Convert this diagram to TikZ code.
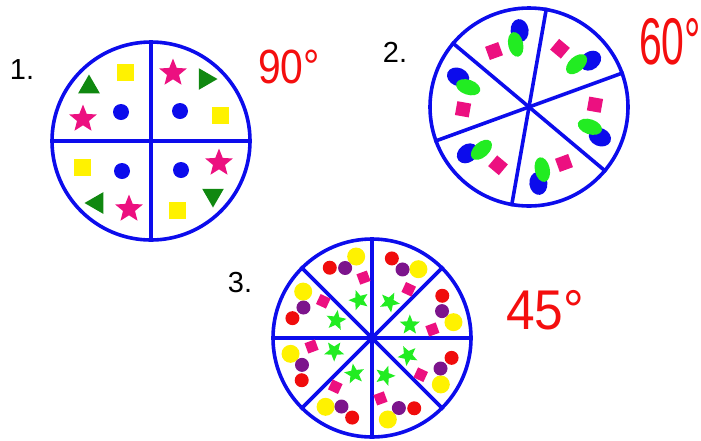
\documentclass[tikz,border=0pt]{standalone}
\usepackage{fontspec}
\setmainfont{Liberation Sans}
\usetikzlibrary{
  shapes.geometric
}
\definecolor{rim}{RGB}{12,12,236}
\definecolor{hotpink}{RGB}{236,16,128}
\definecolor{leaf}{RGB}{16,136,16}
\definecolor{lime}{RGB}{34,236,34}
\definecolor{lemon}{RGB}{255,242,0}
\definecolor{plum}{RGB}{124,20,140}
\definecolor{cherry}{RGB}{240,12,12}
\definecolor{ink}{RGB}{244,14,14}
\tikzset{
  wheel/.style={circle,draw=rim,line width=3.6pt,minimum size=198pt,inner sep=0pt},
  spoke/.style={draw=rim,line width=3.6pt},
  dot/.style={circle,inner sep=0pt,minimum size=#1},
  block/.style={rectangle,inner sep=0pt,minimum size=#1},
  tri/.style={regular polygon,regular polygon sides=3,inner sep=0pt,fill=leaf,minimum size=25pt},
  spark/.style={star,star points=5,star point ratio=2.3,inner sep=0pt,minimum size=#1},
  bean/.style={ellipse,inner sep=0pt},
  number/.style={font=\fontsize{29}{34}\selectfont,text=black,inner sep=0pt},
  degree/.style={text=ink,inner sep=0pt}
}

\begin{document}
\begin{tikzpicture}[x=1pt,y=1pt]
  \useasboundingbox (0,0) rectangle (701,-440);

  \node[wheel] (w1) at (151,-141) {};
  \node[wheel] (w2) at (529,-107) {};
  \node[wheel] (w3) at (372,-338) {};

  \draw[spoke] (w1.north) -- (w1.south);
  \draw[spoke] (w1.west) -- (w1.east);
  \foreach \a/\b in {20/200,80/260,140/320}
    \draw[spoke] (w2.\a) -- (w2.\b);
  \foreach \a/\b in {0/180,45/225,90/270,135/315}
    \draw[spoke] (w3.\a) -- (w3.\b);

  \foreach \k in {0,1,2,3} {
    \begin{scope}[shift={(w1.center)},rotate=-90*\k]
      \node[block=17pt,fill=lemon] (q\k-box) at (-26,69) {};
      \node[tri,rotate=-90*\k] (q\k-tri) at (-62,54) {};
      \node[dot=16pt,fill=rim] (q\k-dot) at (-30,29) {};
      \node[spark=29pt,fill=hotpink] (q\k-star) at (-68,22) {};
    \end{scope}
  }

  \foreach \k in {0,...,5} {
    \pgfmathsetmacro\tilt{110-60*\k}
    \node[block=14pt,fill=hotpink,rotate=\tilt] (s\k-box)
      at ([shift={(\tilt+12:66)}]w2.center) {};
    \node[bean,fill=rim,minimum width=23pt,minimum height=18pt,rotate=\tilt-13] (s\k-blue)
      at ([shift={(\tilt-13:77)}]w2.center) {};
    \node[bean,fill=lime,minimum width=25pt,minimum height=15pt,rotate=\tilt-8] (s\k-green)
      at ([shift={(\tilt-8:64)}]w2.center) {};
  }

  \foreach \k in {0,...,7} {
    \pgfmathsetmacro\open{45*\k}
    \node[dot=18pt,fill=lemon] (e\k-sun) at ([shift={(\open+11:83)}]w3.center) {};
    \node[dot=14pt,fill=plum] (e\k-grape) at ([shift={(\open+21:75)}]w3.center) {};
    \node[dot=14pt,fill=cherry] (e\k-berry) at ([shift={(\open+31:82)}]w3.center) {};
    \node[block=11pt,fill=hotpink,rotate=\open+20] (e\k-box)
      at ([shift={(\open+8:61)}]w3.center) {};
    \node[spark=21pt,fill=lime,rotate=\open] (e\k-star)
      at ([shift={(\open+19:40)}]w3.center) {};
  }

  \node[number] (n1) at (22,-70) {1.};
  \node[number] (n2) at (395,-52) {2.};
  \node[number] (n3) at (240,-283) {3.};

  \node[degree,font=\fontsize{48}{50}\selectfont,xscale=0.85] (d1) at (289,-67) {90°};
  \node[degree,font=\fontsize{66}{70}\selectfont,xscale=0.62] (d2) at (670,-42) {60°};
  \node[degree,font=\fontsize{56}{60}\selectfont,xscale=0.92] (d3) at (545,-310) {45°};
\end{tikzpicture}
\end{document}
